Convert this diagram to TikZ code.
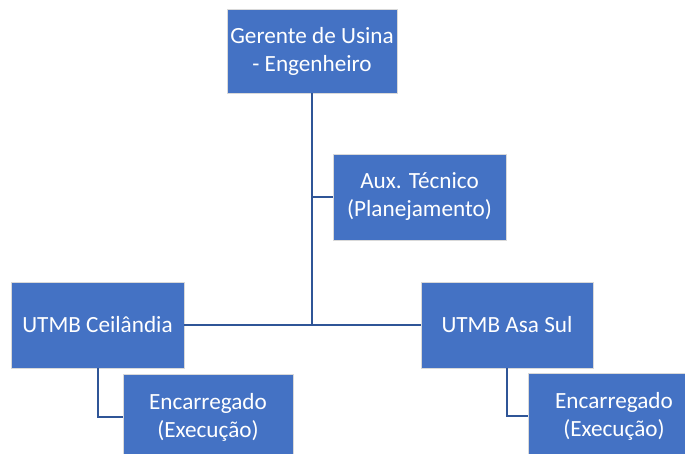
\documentclass[tikz,border=0pt]{standalone}
\usepackage{fontspec}
\setmainfont{Carlito}
\usepackage{tikz}
\usetikzlibrary{positioning}
\definecolor{boxblue}{HTML}{4472C4}
\definecolor{linkblue}{HTML}{2F5597}
\tikzset{thick,
    cargo/.style={rectangle,draw=white!85!black,line width=0.8pt,fill=boxblue,
        text=white,align=center,inner sep=0pt,
        font=\fontsize{23.2}{28}\selectfont},
    elbow/.style={to path={(\tikztostart.south) |- (\tikztotarget.west)}},
    link/.style={draw=linkblue,line width=2pt}}

\begin{document}
\begin{tikzpicture}[x=1pt,y=-1pt]
\useasboundingbox (0,0) rectangle (685,453);
\clip (0,0) rectangle (685,453);
\node[cargo,minimum width=170pt,minimum height=84pt] (gerente) at (312,51)   {Gerente de Usina\\- Engenheiro};
\node[cargo,minimum width=173pt,minimum height=86pt] (aux)     at (419.5,197) {Aux. Técnico\\(Planejamento)};
\node[cargo,minimum width=173pt,minimum height=86pt] (ceil)    at (97.5,325) {UTMB Ceilândia};
\node[cargo,minimum width=172pt,minimum height=86pt] (asasul)  at (507,325)  {UTMB Asa Sul};
\node[cargo,minimum width=170pt,minimum height=86pt] (encCeil) at (208,417)  {Encarregado\\(Execução)};
\node[cargo,minimum width=172pt,minimum height=86pt] (encAsa)  at (614,416)  {Encarregado\\(Execução)};
\path[link]
    (gerente)	edge 	[] 	(gerente |- ceil)
    (ceil)	edge 	[] 	(asasul)
    (gerente |- aux)	edge 	[] 	(aux)
    (ceil)	edge 	[elbow] 	(encCeil)
    (asasul)	edge 	[elbow] 	(encAsa);
\end{tikzpicture}
\end{document}
